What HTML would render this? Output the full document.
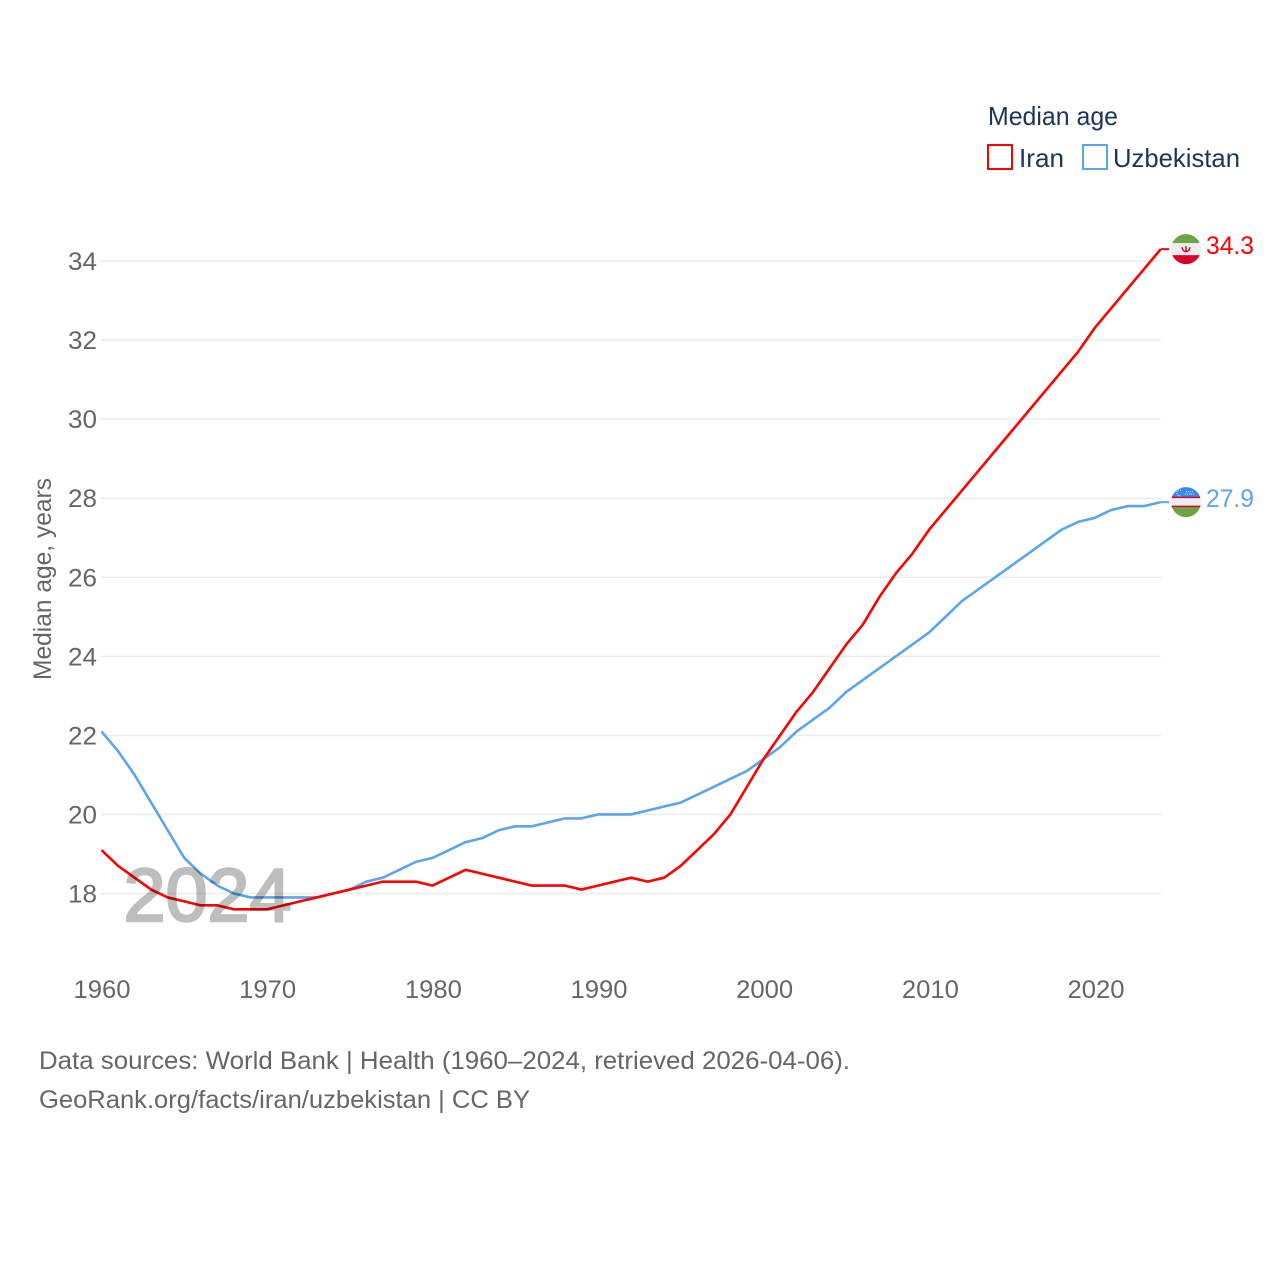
<!DOCTYPE html>
<html lang="en">
<head>
<meta charset="utf-8">
<title>Median age: Iran and Uzbekistan</title>
<style>
html,body{margin:0;padding:0;background:#fff;}
svg{display:block;font-family:"Liberation Sans",sans-serif;}
</style>
</head>
<body>
<svg id="chart" xmlns="http://www.w3.org/2000/svg" width="1280" height="1280" viewBox="0 0 1280 1280">
  <defs>
    <clipPath id="flag-clip-iran"><circle id="clip-iran-c" cx="1186" cy="249" r="15"></circle></clipPath>
    <clipPath id="flag-clip-uzb"><circle id="clip-uzb-c" cx="1186" cy="502" r="15"></circle></clipPath>
  </defs>
  <g id="grid"></g>
  <g id="yticks"></g>
  <g id="xticks"></g>
  <text transform="translate(51,680) rotate(-90)" font-size="25" fill="#666" textLength="202" lengthAdjust="spacingAndGlyphs">Median age, years</text>
  <g id="series"></g>
  <text x="123.5" y="921" font-size="75" fill="#000" stroke="#000" stroke-width="2.5" opacity="0.25" textLength="168" lengthAdjust="spacingAndGlyphs">2024</text>
  <g id="endmarks"></g>

  <g>
    <text x="988" y="125" font-size="26" fill="#1c3557" textLength="130" lengthAdjust="spacingAndGlyphs">Median age</text>
    <rect x="988" y="145" width="24" height="24" fill="none" stroke="#ff0000" stroke-width="2"></rect>
    <text x="1019" y="167" font-size="26" fill="#1c3557" textLength="45" lengthAdjust="spacingAndGlyphs">Iran</text>
    <rect x="1083" y="145" width="24" height="24" fill="none" stroke="#5ba5ee" stroke-width="2"></rect>
    <text x="1113" y="167" font-size="26" fill="#1c3557" textLength="127" lengthAdjust="spacingAndGlyphs">Uzbekistan</text>
  </g>

  <text x="39" y="1069" font-size="25" fill="#666" textLength="811" lengthAdjust="spacingAndGlyphs">Data sources: World Bank | Health (1960–2024, retrieved 2026-04-06).</text>
  <text x="39" y="1108" font-size="25" fill="#666" textLength="491" lengthAdjust="spacingAndGlyphs">GeoRank.org/facts/iran/uzbekistan | CC BY</text>
</svg>
<script>
const firstYear = 1960;
const iranValues = [19.1,18.7,18.4,18.1,17.9,17.8,17.7,17.7,17.6,17.6,17.6,17.7,17.8,17.9,18.0,18.1,18.2,18.3,18.3,18.3,18.2,18.4,18.6,18.5,18.4,18.3,18.2,18.2,18.2,18.1,18.2,18.3,18.4,18.3,18.4,18.7,19.1,19.5,20.0,20.7,21.4,22.0,22.6,23.1,23.7,24.3,24.8,25.5,26.1,26.6,27.2,27.7,28.2,28.7,29.2,29.7,30.2,30.7,31.2,31.7,32.3,32.8,33.3,33.8,34.3];
const uzbekistanValues = [22.1,21.6,21.0,20.3,19.6,18.9,18.5,18.2,18.0,17.9,17.9,17.9,17.9,17.9,18.0,18.1,18.3,18.4,18.6,18.8,18.9,19.1,19.3,19.4,19.6,19.7,19.7,19.8,19.9,19.9,20.0,20.0,20.0,20.1,20.2,20.3,20.5,20.7,20.9,21.1,21.4,21.7,22.1,22.4,22.7,23.1,23.4,23.7,24.0,24.3,24.6,25.0,25.4,25.7,26.0,26.3,26.6,26.9,27.2,27.4,27.5,27.7,27.8,27.8,27.9];
const yTickValues = [18,20,22,24,26,28,30,32,34];
const xTickYears = [1960,1970,1980,1990,2000,2010,2020];
const iranLabel = "34.3";
const uzbekistanLabel = "27.9";

const NS = "http://www.w3.org/2000/svg";
function xScale(year){ return 101.5 + (year - 1960) * 16.55; }
function xLabelScale(year){ return 102 + (year - 1960) * 16.567; }
function yScale(v){ return 893.5 - (v - 18) * 39.53; }
function make(tag, attrs, parent){
  const el = document.createElementNS(NS, tag);
  for (const k in attrs) el.setAttribute(k, attrs[k]);
  parent.appendChild(el);
  return el;
}
const gridG = document.getElementById("grid");
const yG = document.getElementById("yticks");
const xG = document.getElementById("xticks");
const seriesG = document.getElementById("series");
const endG = document.getElementById("endmarks");

yTickValues.forEach(function(v){
  const line = make("line", {x1:101, x2:1161, y1:yScale(v), y2:yScale(v), stroke:"#ececec", "stroke-width":1.5}, gridG);
  
  
  const t = make("text", {x:97, y:yScale(v)+9, "text-anchor":"end", "font-size":25, fill:"#666", textLength:29, lengthAdjust:"spacingAndGlyphs"}, yG);
  
  
  t.textContent = v;
});
xTickYears.forEach(function(yr){
  const t = make("text", {x:xLabelScale(yr), y:998, "text-anchor":"middle", "font-size":25, fill:"#666", textLength:57, lengthAdjust:"spacingAndGlyphs"}, xG);
  
  
  t.textContent = yr;
});
function pathFor(values){
  return values.map(function(v,i){
    return (i ? "L" : "M") + xScale(firstYear + i).toFixed(2) + " " + yScale(v).toFixed(2);
  }).join(" ");
}
const uzbLine = make("path", {d:pathFor(uzbekistanValues), fill:"none", stroke:"#5ba5ee", "stroke-width":2.6, "stroke-linejoin":"round"}, seriesG);


const iranLine = make("path", {d:pathFor(iranValues), fill:"none", stroke:"#ff0000", "stroke-width":2.6, "stroke-linejoin":"round"}, seriesG);



const lastX = xScale(firstYear + iranValues.length - 1);
const iy = yScale(iranValues[iranValues.length - 1]);
const uy = yScale(uzbekistanValues[uzbekistanValues.length - 1]);

const iranStub = make("line", {x1:lastX, x2:1169, y1:iy, y2:iy, stroke:"#ff0000", "stroke-width":2}, endG);


const uzbStub = make("line", {x1:lastX, x2:1169, y1:uy, y2:uy, stroke:"#5ba5ee", "stroke-width":2}, endG);



document.getElementById("clip-iran-c").setAttribute("cy", iy);
document.getElementById("clip-uzb-c").setAttribute("cy", uy);

const iranFlag = make("g", {"clip-path":"url(#flag-clip-iran)"}, endG);


make("rect", {x:1171, y:iy-16, width:30, height:10, fill:"#6da544"}, iranFlag);
make("rect", {x:1171, y:iy-6, width:30, height:12.5, fill:"#eeeeee"}, iranFlag);
make("rect", {x:1171, y:iy+6, width:30, height:10, fill:"#d80027"}, iranFlag);
make("path", {d:"M1182 "+(iy-2)+"q0.5 4 4 4.5q3.5-0.5 4-4.5M1186 "+(iy-3)+"v5.5", fill:"none", stroke:"#d80027", "stroke-width":1.4}, iranFlag);

const uzbFlag = make("g", {"clip-path":"url(#flag-clip-uzb)"}, endG);


make("rect", {x:1171, y:uy-16, width:30, height:11, fill:"#338af3"}, uzbFlag);
make("rect", {x:1171, y:uy-5, width:30, height:9, fill:"#eeeeee"}, uzbFlag);
make("rect", {x:1171, y:uy+4, width:30, height:12, fill:"#6da544"}, uzbFlag);
make("rect", {x:1171, y:uy-5.5, width:30, height:1.5, fill:"#d80027"}, uzbFlag);
make("rect", {x:1171, y:uy+3.5, width:30, height:1.5, fill:"#d80027"}, uzbFlag);
make("path", {d:"M1181 "+(uy-12)+"a3 3 0 1 0 0 5.5M1185 "+(uy-8)+"h9M1186 "+(uy-10.5)+"h7", fill:"none", stroke:"#dfeeff", "stroke-width":1, "stroke-dasharray":"1 1"}, uzbFlag);

const iranText = make("text", {x:1206, y:iy+5, "font-size":25, fill:"#ff0000", textLength:48, lengthAdjust:"spacingAndGlyphs"}, endG);


iranText.textContent = iranLabel;
const uzbText = make("text", {x:1206, y:uy+5, "font-size":25, fill:"#5ba5ee", textLength:48, lengthAdjust:"spacingAndGlyphs"}, endG);


uzbText.textContent = uzbekistanLabel;
</script>
</body>
</html>
